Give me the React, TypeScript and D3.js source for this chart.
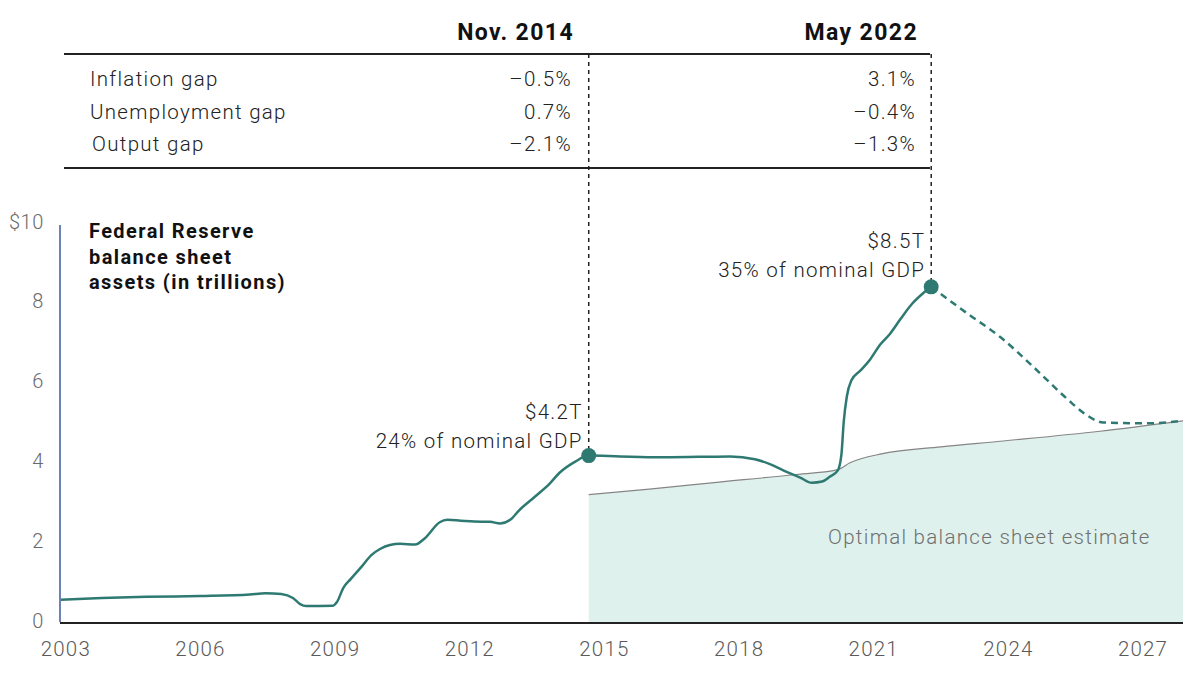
import * as d3 from "d3";

type Pt = [number, number];

// Fed balance sheet assets, $ trillions (year as decimal)
const fedActual: Pt[] = [
  [2002.89, 0.56], [2003.8, 0.6], [2004.8, 0.63], [2006.0, 0.65], [2007.1, 0.69],
  [2007.45, 0.72], [2007.8, 0.7], [2008.06, 0.6], [2008.22, 0.45], [2008.35, 0.4],
  [2008.95, 0.41], [2009.04, 0.5], [2009.18, 0.85], [2009.35, 1.08], [2009.6, 1.4],
  [2009.8, 1.67], [2010.0, 1.83], [2010.22, 1.93], [2010.45, 1.96], [2010.78, 1.94],
  [2011.0, 2.1], [2011.33, 2.5], [2011.5, 2.56], [2011.8, 2.54], [2012.1, 2.52],
  [2012.45, 2.51], [2012.68, 2.47], [2012.9, 2.56], [2013.1, 2.8], [2013.45, 3.14],
  [2013.78, 3.47], [2014.0, 3.74], [2014.35, 4.02], [2014.65, 4.17], [2015.35, 4.15],
  [2016.24, 4.13], [2017.1, 4.14], [2017.8, 4.15], [2018.35, 4.08], [2018.7, 3.95],
  [2019.02, 3.78], [2019.36, 3.62], [2019.62, 3.49], [2019.85, 3.52], [2020.02, 3.64],
  [2020.2, 3.8], [2020.28, 4.2], [2020.33, 5.0], [2020.4, 5.65], [2020.5, 6.05],
  [2020.7, 6.3], [2020.92, 6.58], [2021.14, 6.95], [2021.36, 7.22], [2021.6, 7.6],
  [2021.85, 7.97], [2022.08, 8.22], [2022.28, 8.4],
];

const fedProjection: Pt[] = [
  [2022.28, 8.4], [2023.1, 7.72], [2023.81, 7.15], [2024.55, 6.4], [2025.3, 5.6],
  [2025.7, 5.22], [2026.11, 5.0], [2027.16, 4.98], [2027.86, 5.04],
];

const optimalEstimate: Pt[] = [
  [2014.65, 3.19], [2016.0, 3.33], [2017.5, 3.5], [2019.2, 3.69], [2020.2, 3.82],
  [2020.47, 3.99], [2021.2, 4.22], [2022.5, 4.39], [2023.81, 4.53], [2026.04, 4.78],
  [2027.89, 5.04],
];

const callouts = [
  { header: "Nov. 2014", year: 2014.65, value: 4.17, lines: ["$4.2T", "24% of nominal GDP"] },
  { header: "May 2022", year: 2022.28, value: 8.4, lines: ["$8.5T", "35% of nominal GDP"] },
];

const gapLabels = ["Inflation gap", "Unemployment gap", "Output gap"];
const gapNov2014 = ["–0.5%", "0.7%", "–2.1%"];
const gapMay2022 = ["3.1%", "–0.4%", "–1.3%"];

const xTicks = [2003, 2006, 2009, 2012, 2015, 2018, 2021, 2024, 2027];
const yTicks = [0, 2, 4, 6, 8, 10];

const TEAL = "#2e7a73";
const FONT = "Roboto, 'Liberation Sans', Arial, sans-serif";
const LIGHT = { fontSize: 20.5, fontWeight: 300, letterSpacing: 1.3 };

export default function App() {
  const width = 1200;
  const height = 678;
  const x = d3.scaleLinear([2002.87, 2027.89], [60, 1183]);
  const y = d3.scaleLinear([0, 10], [622, 223]);

  const line = d3
    .line<Pt>()
    .x((d) => x(d[0]))
    .y((d) => y(d[1]))
    .curve(d3.curveMonotoneX);
  const area = d3
    .area<Pt>()
    .x((d) => x(d[0]))
    .y0(y(0))
    .y1((d) => y(d[1]))
    .curve(d3.curveMonotoneX);

  const tableRight = [572, 916];
  const rowY = [86, 119, 151];

  return (
    <svg
      width={width}
      height={height}
      viewBox={`0 0 ${width} ${height}`}
      style={{ position: "absolute", left: 0, top: 0, background: "#fff", fontFamily: FONT }}
    >
      {/* table */}
      <line x1={64} x2={930} y1={54} y2={54} stroke="#222" strokeWidth={2} />
      <line x1={64} x2={930} y1={168} y2={168} stroke="#222" strokeWidth={2} />
      {callouts.map((c, i) => (
        <text
          key={c.header}
          x={tableRight[i] + 2}
          y={40}
          textAnchor="end"
          fontSize={23}
          fontWeight={700}
          letterSpacing={1.4}
          fill="#111"
        >
          {c.header}
        </text>
      ))}
      {gapLabels.map((label, i) => (
        <g key={label} {...LIGHT} fill="#222">
          <text x={i === 2 ? 92 : 90} y={rowY[i]}>{label}</text>
          <text x={tableRight[0]} y={rowY[i]} textAnchor="end">{gapNov2014[i]}</text>
          <text x={tableRight[1]} y={rowY[i]} textAnchor="end">{gapMay2022[i]}</text>
        </g>
      ))}

      {/* optimal estimate */}
      <path d={area(optimalEstimate) ?? undefined} fill="#dff1ed" />
      <path d={line(optimalEstimate) ?? undefined} fill="none" stroke="#858585" strokeWidth={1.2} />
      <text x={828} y={544} {...LIGHT} fill="#6f6f6f">
        Optimal balance sheet estimate
      </text>

      {/* axes */}
      <line x1={x(2002.87)} x2={x(2002.87)} y1={225} y2={y(0)} stroke="#3c5a9a" strokeWidth={1.5} />
      <line x1={60} x2={1183} y1={y(0) + 1} y2={y(0) + 1} stroke="#222" strokeWidth={2} />
      {yTicks.map((t) => (
        <text
          key={t}
          x={44}
          y={y(t) - 1.5}
          dy="0.35em"
          textAnchor="end"
          fontSize={20}
          fontWeight={300}
          letterSpacing={0.6}
          fill="#6a6a6a"
        >
          {t === 10 ? "$10" : t}
        </text>
      ))}
      {xTicks.map((t) => (
        <text
          key={t}
          x={x(t)}
          y={656}
          textAnchor="middle"
          fontSize={20.5}
          fontWeight={300}
          fill="#5a5a5a"
          letterSpacing={1.2}
        >
          {t}
        </text>
      ))}

      {/* title */}
      <text fontSize={20} fontWeight={700} fill="#111" letterSpacing={1.4}>
        {["Federal Reserve", "balance sheet", "assets (in trillions)"].map((s, i) => (
          <tspan key={s} x={89} y={238 + i * 25.5}>{s}</tspan>
        ))}
      </text>

      {/* callout dashed lines */}
      {callouts.map((c) => (
        <line
          key={c.header + "v"}
          x1={x(c.year)}
          x2={x(c.year)}
          y1={54}
          y2={y(c.value) - 6}
          stroke="#222"
          strokeWidth={1.5}
          strokeDasharray="4 4"
        />
      ))}

      {/* series */}
      <path d={line(fedProjection) ?? undefined} fill="none" stroke={TEAL} strokeWidth={2.5} strokeDasharray="7 5" />
      <path d={line(fedActual) ?? undefined} fill="none" stroke={TEAL} strokeWidth={2.5} strokeLinejoin="round" />
      {callouts.map((c) => (
        <g key={c.header + "p"}>
          <circle cx={x(c.year)} cy={y(c.value)} r={7.5} fill={TEAL} />
          {c.lines.map((s, i) => (
            <text
              key={s}
              x={x(c.year) - 6}
              y={y(c.value) - (c.year < 2020 ? 37 : 39) + i * 29.5}
              textAnchor="end"
              {...LIGHT}
              fill="#222"
            >
              {s}
            </text>
          ))}
        </g>
      ))}
    </svg>
  );
}
